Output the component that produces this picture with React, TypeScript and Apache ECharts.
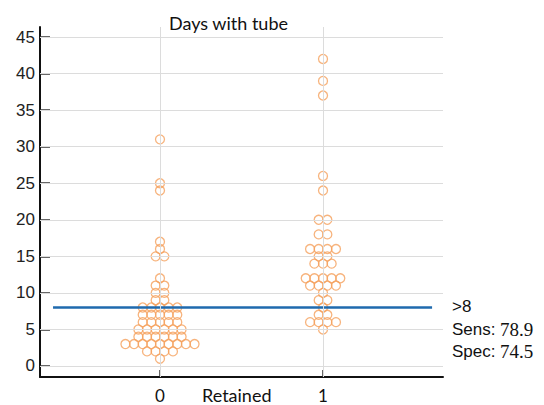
import React, { useEffect, useRef } from "react";
import * as echarts from "echarts";

// ---- data ----
const groupLabels = ["0", "1"];
const daysRetained0 = [
  1,
  2, 2, 2, 2,
  3, 3, 3, 3, 3, 3, 3, 3, 3,
  4, 4, 4, 4, 4, 4,
  5, 5, 5, 5, 5, 5,
  6, 6, 6, 6, 6,
  7, 7, 7, 7, 7,
  8, 8, 8, 8, 8,
  9, 9, 10, 10, 11, 11, 12, 15, 15, 16, 17, 24, 25, 31,
];
const daysRetained1 = [
  5, 6, 6, 6, 6, 7, 7, 8, 9, 9, 10,
  11, 11, 11, 11, 12, 12, 12, 12, 12,
  14, 14, 14, 15, 15, 16, 16, 16, 16,
  18, 18, 20, 20, 24, 26, 37, 39, 42,
];
const yTicks = [0, 5, 10, 15, 20, 25, 30, 35, 40, 45];
const xTicks = [0, 1];
const cutoff = 8;
const sensitivity = "78.9";
const specificity = "74.5";
const titleText = "Days with tube";
const xName = "Retained";

// ---- layout / style ----
const X_MIN = -0.736;
const X_MAX = 1.736;
const Y_MIN = -1.505;
const Y_MAX = 46.37;
const DOT_STEP = 0.053; // horizontal spacing of equal values, in axis units
const LINE_X0 = -0.656;
const LINE_X1 = 1.669;
const ORANGE = "#F5A05C";

function swarm(values: number[], center: number): number[][] {
  const counts = new Map<number, number>();
  values.forEach((v) => counts.set(v, (counts.get(v) || 0) + 1));
  const out: number[][] = [];
  Array.from(counts.keys())
    .sort((a, b) => a - b)
    .forEach((v) => {
      const n = counts.get(v) as number;
      for (let i = 0; i < n; i++) {
        out.push([center + (i - (n - 1) / 2) * DOT_STEP, v]);
      }
    });
  return out;
}

export default function App() {
  const ref = useRef<HTMLDivElement>(null);
  useEffect(() => {
    if (!ref.current) return;
    const chart = echarts.init(ref.current, undefined, { renderer: "svg" });
    const sansFont = "Liberation Sans";
    const serifFont = "'Liberation Serif', 'Times New Roman', serif";
    const calibriLike = "Lato";
    const txt = (text: string, left: number, top: number, family: string, size: number) => ({
      text,
      left,
      top,
      padding: 0,
      textStyle: { fontFamily: family, fontSize: size, fontWeight: "normal", color: "#111" },
    });
    const option: any = {
      animation: false,
      backgroundColor: "#ffffff",
      grid: {
        left: 40,
        right: 101,
        top: 27,
        bottom: 28,
        containLabel: false,
        outerBoundsMode: "none",
      },
      title: [
        txt(titleText, 169, 14, calibriLike, 18),
        txt(xName, 202, 386, calibriLike, 18),
        txt(">" + cutoff, 452, 298, sansFont, 17),
        txt("Sens:", 452, 321, sansFont, 17),
        txt(sensitivity, 500, 320, serifFont, 19),
        txt("Spec:", 452, 343, sansFont, 17),
        txt(specificity, 500, 342, serifFont, 19),
      ],
      xAxis: {
        type: "value",
        min: X_MIN,
        max: X_MAX,
        axisLine: { show: true, onZero: false, lineStyle: { color: "#111", width: 2 } },
        axisTick: {
          show: true,
          inside: true,
          length: 7,
          customValues: xTicks,
          lineStyle: { color: "#333", width: 1.5 },
        },
        axisLabel: {
          customValues: xTicks,
          formatter: (v: number) => groupLabels[Math.round(v)] ?? "",
          fontFamily: calibriLike,
          fontSize: 17,
          color: "#111",
          margin: 10,
        },
        splitLine: { show: false },
      },
      yAxis: {
        type: "value",
        min: Y_MIN,
        max: Y_MAX,
        axisLine: { show: true, onZero: false, lineStyle: { color: "#111", width: 2 } },
        axisTick: {
          show: true,
          inside: true,
          length: 10,
          customValues: yTicks,
          lineStyle: { color: "#333", width: 1.5 },
        },
        axisLabel: {
          customValues: yTicks,
          fontFamily: sansFont,
          fontSize: 17,
          color: "#222",
          margin: 5,
        },
        splitLine: { show: false },
      },
      series: [
        {
          type: "line",
          data: [],
          markLine: {
            silent: true,
            symbol: "none",
            label: { show: false },
            lineStyle: { color: "#dcdcdc", width: 1, type: "solid" },
            data: [
              ...xTicks.map((v) => ({ xAxis: v })),
              ...yTicks.map((v) => ({ yAxis: v })),
            ],
          },
          z: 1,
        },
        {
          type: "scatter",
          symbol: "circle",
          symbolSize: 9,
          itemStyle: { color: "rgba(0,0,0,0)", borderColor: ORANGE, borderWidth: 1.3 },
          data: swarm(daysRetained0, 0),
          z: 3,
        },
        {
          type: "scatter",
          symbol: "circle",
          symbolSize: 9,
          itemStyle: { color: "rgba(0,0,0,0)", borderColor: ORANGE, borderWidth: 1.3 },
          data: swarm(daysRetained1, 1),
          z: 3,
        },
        {
          type: "line",
          symbol: "none",
          lineStyle: { color: "#1F6AAE", width: 2.5 },
          data: [
            [LINE_X0, cutoff],
            [LINE_X1, cutoff],
          ],
          z: 4,
        },
      ],
    };
    chart.setOption(option);
    return () => chart.dispose();
  }, []);
  return <div ref={ref} style={{ width: 544, height: 405, position: "absolute", left: 0, top: 0 }} />;
}
